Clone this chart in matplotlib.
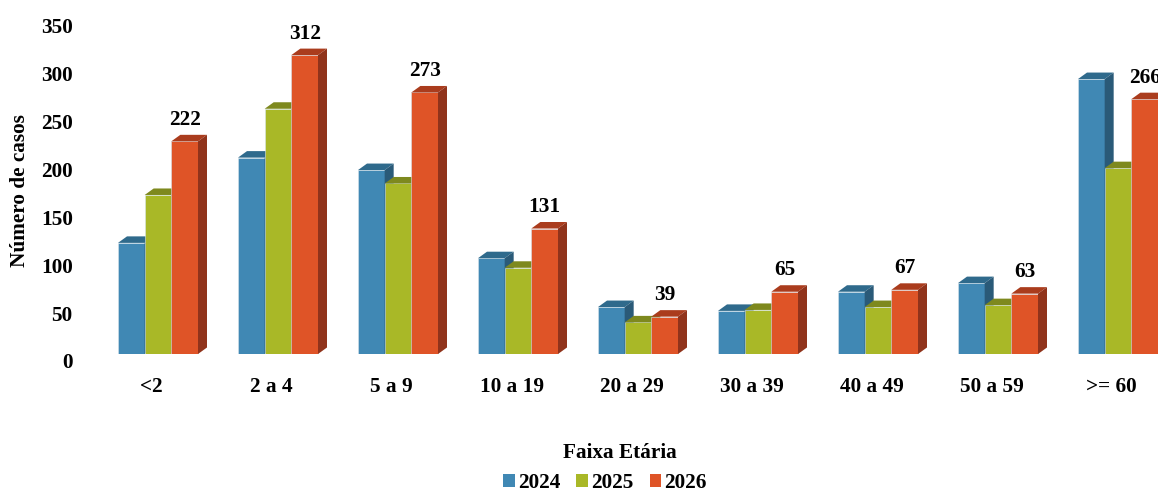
import matplotlib
matplotlib.use("Agg")
import matplotlib.pyplot as plt
import matplotlib.transforms as mtransforms
from matplotlib.patches import Polygon, Patch
import numpy as np

categories = ["<2", "2 a 4", "5 a 9", "10 a 19", "20 a 29", "30 a 39", "40 a 49", "50 a 59", ">= 60"]
years = ["2024", "2025", "2026"]
v2024 = [116, 205, 192, 100, 49, 45, 65, 74, 287]
v2025 = [166, 256, 178, 90, 33, 46, 49, 51, 194]
v2026 = [222, 312, 273, 131, 39, 65, 67, 63, 266]
yticks = [0, 50, 100, 150, 200, 250, 300, 350]

front = ["#4088B4", "#A9B827", "#DF5427"]
topc = ["#2F6A8C", "#7E891E", "#AA3C1D"]
sidec = ["#2A5A78", "#6C771A", "#90331B"]

W, H, DPI = 11.58, 4.93, 100
fig = plt.figure(figsize=(W, H), dpi=DPI)
plt.rcParams["font.family"] = ["Liberation Serif", "DejaVu Serif"]
FS = 15.3

# axes geometry in pixels
left_px, right_px, base_px = 90, 1158, 354
ax = fig.add_axes([left_px / 1158, (493 - base_px) / 493, (right_px - left_px) / 1158, base_px / 493])
gap = 120.0  # px per category
x0c = 158.0
ax.set_xlim((left_px - x0c) / gap, (right_px - x0c) / gap)
ymax = base_px / 0.958
ax.set_ylim(0, ymax)
for s in ax.spines.values():
    s.set_visible(False)
ax.set_xticks([])
ax.set_yticks(yticks)
ax.set_yticklabels([str(t) for t in yticks], fontsize=FS, fontweight="bold")
ax.tick_params(axis="y", length=0, pad=12.5)
off = mtransforms.ScaledTranslation(0, -7 / DPI, fig.dpi_scale_trans)
for lab in ax.get_yticklabels():
    lab.set_transform(lab.get_transform() + off)

# depth in data units
ddx = 9 / gap
ddy = 6.5 * ymax / base_px

bw = 80 / 3 / gap
x = np.arange(len(categories))
series = [v2024, v2025, v2026]
for k, vals in enumerate(series):
    xs = x + (k - 1) * bw
    z = 3 + k
    ax.bar(xs, vals, width=bw, color=front[k], edgecolor="#d8e4ec", linewidth=0.4, zorder=z)
    for xi, h in zip(xs, vals):
        xl, xr = xi - bw / 2, xi + bw / 2
        top = Polygon([(xl, h), (xr, h), (xr + ddx, h + ddy), (xl + ddx, h + ddy)],
                      closed=True, facecolor=topc[k], edgecolor="none", zorder=z)
        side = Polygon([(xr, 0), (xr + ddx, ddy), (xr + ddx, h + ddy), (xr, h)],
                       closed=True, facecolor=sidec[k], edgecolor="none", zorder=z)
        ax.add_patch(top)
        ax.add_patch(side)

# value labels on 2026
for xi, h in zip(x + bw, v2026):
    ax.annotate(str(h), (xi, h), xytext=(0, 16.5 * 0.72), textcoords="offset points",
                ha="center", va="baseline", fontsize=FS, fontweight="bold",
                annotation_clip=False, zorder=10)

# category labels
for xi, c in zip(x, categories):
    ax.annotate(c, (xi, 0), xytext=(-6.5 * 0.72, -38 * 0.72), textcoords="offset points",
                ha="center", va="baseline", fontsize=FS, fontweight="bold",
                annotation_clip=False)

fig.text(20 / 1158, 1 - 191 / 493, "Número de casos", rotation=90, ha="center", va="center",
         fontsize=FS, fontweight="bold")
fig.text(620 / 1158, 1 - 453 / 493, "Faixa Etária", ha="center", va="center",
         fontsize=FS, fontweight="bold")

handles = [Patch(facecolor=front[k], edgecolor="none", label=years[k]) for k in range(3)]
fig.legend(handles=handles, loc="center", bbox_to_anchor=(605 / 1158, 1 - 483 / 493), ncol=3,
           frameon=False, prop={"size": FS, "weight": "bold"}, handlelength=0.55,
           handleheight=0.55, handletextpad=0.15, columnspacing=0.75, borderpad=0, borderaxespad=0)

fig.savefig("out.png", dpi=DPI)
